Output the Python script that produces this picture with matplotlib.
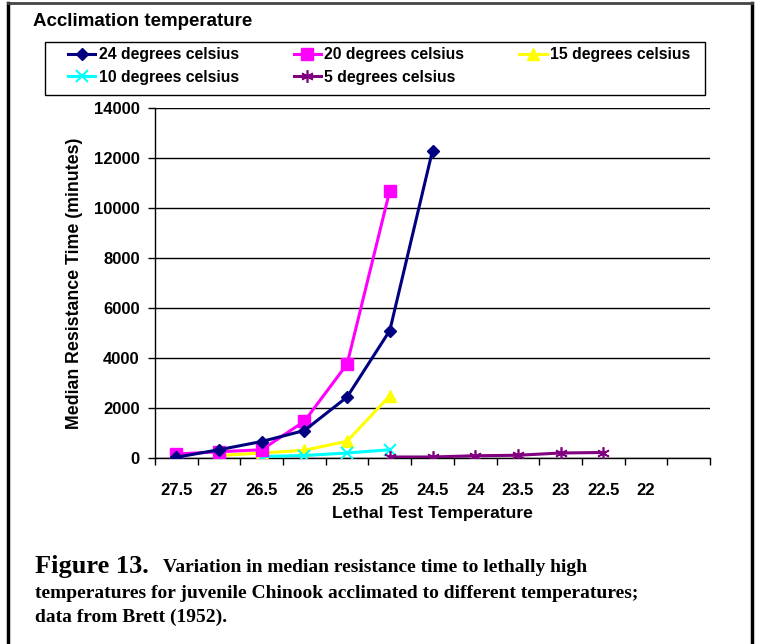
import numpy as np
import matplotlib.pyplot as plt
from matplotlib.lines import Line2D
from matplotlib.patches import Rectangle

# category axis (Excel style, last category has no label)
temps = ['27.5', '27', '26.5', '26', '25.5', '25', '24.5', '24', '23.5', '23', '22.5', '22', '']

nan = np.nan
# median resistance time (minutes)
acc24 = [30, 330, 660, 1100, 2440, 5100, 12300, nan, nan, nan, nan, nan, nan]
acc20 = [160, 250, 330, 1470, 3760, 10700, nan, nan, nan, nan, nan, nan, nan]
acc15 = [nan, 100, 200, 310, 670, 2490, nan, nan, nan, nan, nan, nan, nan]
acc10 = [nan, nan, 60, 100, 200, 330, nan, nan, nan, nan, nan, nan, nan]
acc5 = [nan, nan, nan, nan, nan, 40, 40, 90, 110, 200, 220, nan, nan]

labels = ['24 degrees celsius', '20 degrees celsius', '15 degrees celsius',
          '10 degrees celsius', '5 degrees celsius']

plt.rcParams['font.family'] = ['Liberation Sans', 'DejaVu Sans']
plt.rcParams['font.weight'] = 'bold'

W, H = 758, 644
fig = plt.figure(figsize=(W / 100, H / 100), dpi=100)
ax = fig.add_axes([155 / W, 1 - 458 / H, (710 - 155) / W, (458 - 108) / H])

x = np.arange(len(temps))
l24, = ax.plot(x, acc24, color='#000080', lw=2.2, marker='D', ms=6.5, label=labels[0], zorder=5)
l20, = ax.plot(x, acc20, color='#FF00FF', lw=2.2, marker='s', ms=8, label=labels[1], zorder=4)
l15, = ax.plot(x, acc15, color='#FFFF00', lw=2.2, marker='^', ms=8, label=labels[2], zorder=3)
l10, = ax.plot(x, acc10, color='#00FFFF', lw=2.2, marker='x', ms=8, mew=1.5, label=labels[3], zorder=3)
l5, = ax.plot(x, acc5, color='#800080', lw=2.2, marker=(6, 2, 0), ms=9, mew=1.2, label=labels[4], zorder=3)

ax.set_xlim(-0.5, len(temps) - 0.5)
ax.set_ylim(0, 14000)
ax.set_yticks(np.arange(0, 14001, 2000))
ax.set_xticks(x)
ax.set_xticklabels(temps)
ax.set_xticks(np.arange(-0.5, len(temps)), minor=True)
ax.tick_params(axis='x', which='major', length=0, pad=18, labelsize=12)
ax.tick_params(axis='x', which='minor', length=5, width=1)
ax.tick_params(axis='y', length=5, width=1, labelsize=12, pad=6)
ax.yaxis.grid(True, color='black', lw=1)
ax.set_axisbelow(True)
for s in ['top', 'right']:
    ax.spines[s].set_visible(False)
ax.spines['left'].set_linewidth(1)
ax.spines['bottom'].set_linewidth(1)
ax.axhline(14000, color='#e8e8e8', lw=1, zorder=0)

ax.set_xlabel('Lethal Test Temperature', fontsize=12.6, fontweight='bold', labelpad=6)
ax.set_ylabel('Median Resistance Time (minutes)', fontsize=12.8, fontweight='bold', labelpad=8)

fig.text(33 / W, 1 - 22 / H, 'Acclimation temperature', fontsize=13.5, fontweight='bold',
         va='center', ha='left')

# legend filled row by row like the original (matplotlib fills by column)
handles = [l24, l10, l20, l5, l15]
leg = fig.legend(handles, [h.get_label() for h in handles], loc='upper left',
                 bbox_to_anchor=(68 / W, 1 - 47 / H), ncol=3, frameon=False, fontsize=11.3,
                 handlelength=1.75, handletextpad=0.2, borderpad=0, labelspacing=0.5,
                 columnspacing=3.5, borderaxespad=0)
fig.add_artist(Rectangle((45 / W, 1 - 95 / H), (705 - 45) / W, 53 / H, fill=False,
                         edgecolor='black', lw=1, transform=fig.transFigure))

serif = ['Liberation Serif', 'DejaVu Serif']
fig.text(35 / W, 1 - 566 / H, 'Figure 13.', fontsize=19, fontweight='bold', family=serif,
         va='center', ha='left')
fig.text(163 / W, 1 - 568 / H, 'Variation in median resistance time to lethally high',
         fontsize=14, fontweight='bold', family=serif, va='center', ha='left')
fig.text(35 / W, 1 - 594 / H,
         'temperatures for juvenile Chinook acclimated to different temperatures;',
         fontsize=14, fontweight='bold', family=serif, va='center', ha='left')
fig.text(35 / W, 1 - 617 / H, 'data from Brett (1952).', fontsize=14, fontweight='bold',
         family=serif, va='center', ha='left')

# outer frame of the figure
fig.add_artist(Line2D([8 / W, 8 / W], [0, 1 - 3 / H], color='black', lw=2.5,
                      transform=fig.transFigure))
fig.add_artist(Line2D([752 / W, 752 / W], [0, 1 - 3 / H], color='black', lw=2.5,
                      transform=fig.transFigure))
fig.add_artist(Line2D([8 / W, 752 / W], [1 - 3 / H, 1 - 3 / H], color='#444444', lw=2,
                      transform=fig.transFigure))

fig.savefig('out.png', dpi=100)
